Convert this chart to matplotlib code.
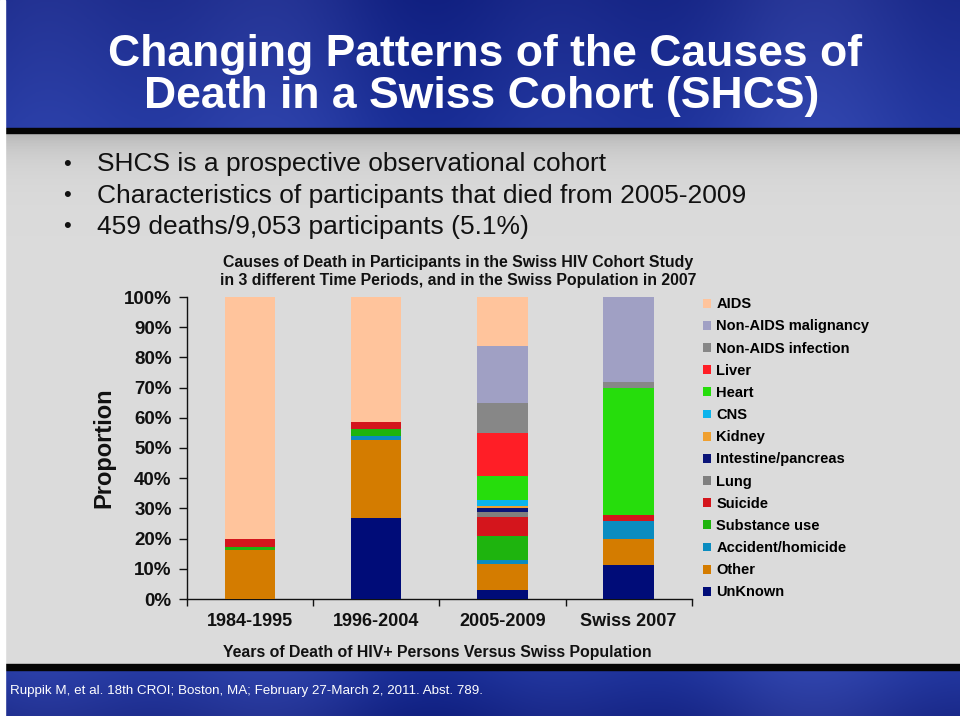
import numpy as np
import matplotlib.pyplot as plt
from matplotlib.patches import Patch, Rectangle
import matplotlib.ticker as ticker

# Data (percent of deaths per period, stacked bottom -> top)
PERIODS = ['1984-1995', '1996-2004', '2005-2009', 'Swiss 2007']
CAUSES = ['UnKnown', 'Other', 'Accident/homicide', 'Substance use', 'Suicide', 'Lung',
          'Intestine/pancreas', 'Kidney', 'CNS', 'Heart', 'Liver', 'Non-AIDS infection',
          'Non-AIDS malignancy', 'AIDS']
P_1984_1995 = [0.0, 16.2, 0.0, 1.1, 2.6, 0.0, 0.0, 0.0, 0.0, 0.0, 0.0, 0.0, 0.0, 80.1]
P_1996_2004 = [26.7, 25.9, 1.5, 2.2, 2.2, 0.0, 0.0, 0.0, 0.0, 0.0, 0.0, 0.0, 0.0, 41.5]
P_2005_2009 = [3.0, 8.6, 1.3, 8.1, 6.3, 1.6, 1.1, 0.8, 2.0, 8.0, 14.1, 9.9, 19.0, 16.2]
P_SWISS_2007 = [11.3, 8.5, 6.1, 0.0, 1.9, 0.0, 0.0, 0.0, 0.0, 42.2, 0.0, 1.7, 28.3, 0.0]
Y_TICKS = [0, 10, 20, 30, 40, 50, 60, 70, 80, 90, 100]

BULLETS = ['SHCS is a prospective observational cohort',
           'Characteristics of participants that died from 2005-2009',
           '459 deaths/9,053 participants (5.1%)']

COLORS = ['#000C78', '#D47C00', '#0A8CC0', '#1EB40E', '#D4151C', '#7F7F7F',
          '#0A1478', '#F0A030', '#0CB4EC', '#26DD0C', '#FF1E26', '#878787',
          '#A0A0C4', '#FFC49C']

plt.rcParams['font.family'] = ['Liberation Sans', 'DejaVu Sans']

W, H = 960, 716
fig = plt.figure(figsize=(W / 100, H / 100), dpi=100)


def fx(px):
    return px / W


def fy(py):
    return 1 - py / H


# Slide background
bg = fig.add_axes([0, 0, 1, 1])
bg.set_xlim(0, W)
bg.set_ylim(H, 0)
bg.axis('off')

gray = np.linspace(0, 1, 200)
gray_col = 0.86 - 0.14 * np.exp(-gray * 25)
gray_img = np.repeat(gray_col[:, None], 2, axis=1)
bg.imshow(np.dstack([gray_img] * 3), extent=(0, W, 665, 133), aspect='auto', zorder=0)

xs = np.linspace(0, 1, 300)
streak = 0.03 * np.sin(xs * 9) + 0.02 * np.sin(xs * 23 + 1)
ys = np.linspace(0, 1, 60)[:, None]
r = 0.11 + 0.03 * ys + streak
g = 0.17 + 0.05 * ys + streak
b = 0.55 + 0.08 * ys + streak
head = np.clip(np.dstack([r, g, b]), 0, 1)
bg.imshow(head, extent=(0, W, 128, 0), aspect='auto', zorder=1)
bg.imshow(head[::-1], extent=(0, W, H, 670), aspect='auto', zorder=1)
bg.add_patch(Rectangle((0, 128), W, 5, color='#050505', zorder=2))
bg.add_patch(Rectangle((0, 664), W, 6, color='#050505', zorder=2))
bg.add_patch(Rectangle((0, 0), 5, H, color='white', zorder=3))

fig.text(fx(485), fy(66), 'Changing Patterns of the Causes of', ha='center', va='baseline',
         color='white', fontsize=32, fontweight='bold')
fig.text(fx(482), fy(108), 'Death in a Swiss Cohort (SHCS)', ha='center', va='baseline',
         color='white', fontsize=32, fontweight='bold')

for i, line in enumerate(BULLETS):
    y = 164 + i * 31.5
    fig.text(fx(67), fy(y), '\u2022', ha='center', va='center', fontsize=16, color='#111111')
    fig.text(fx(97), fy(y), line, ha='left', va='center', fontsize=19, color='#111111')

fig.text(fx(10), fy(691), 'Ruppik M, et al. 18th CROI; Boston, MA; February 27-March 2, 2011. Abst. 789.',
         ha='left', va='center', color='white', fontsize=9.6)

# Chart
ax = fig.add_axes([fx(187), fy(599), fx(691.7) - fx(187), fy(297) - fy(599)])
ax.set_facecolor('none')

series = np.array([P_1984_1995, P_1996_2004, P_2005_2009, P_SWISS_2007]) / 100.0
x = np.arange(len(PERIODS))
bottom = np.zeros(len(PERIODS))
handles = []
for k, cause in enumerate(CAUSES):
    vals = series[:, k]
    ax.bar(x, vals, width=0.4, bottom=bottom, color=COLORS[k], linewidth=0, zorder=3)
    bottom += vals
    handles.append(Patch(facecolor=COLORS[k], edgecolor='none', label=cause))

ax.set_xlim(-0.5, len(PERIODS) - 0.5)
ax.set_ylim(0, 1)
for side in ['top', 'right']:
    ax.spines[side].set_visible(False)
for side in ['left', 'bottom']:
    ax.spines[side].set_color('#111111')
    ax.spines[side].set_linewidth(1.0)

ax.set_yticks(np.array(Y_TICKS) / 100.0)
ax.yaxis.set_major_formatter(ticker.PercentFormatter(1.0, decimals=0))
ax.tick_params(axis='y', direction='out', length=6, width=1, labelsize=13.5, pad=5, colors='#111111')
for lab in ax.get_yticklabels():
    lab.set_fontweight('bold')

ax.set_xticks(x)
ax.set_xticklabels(PERIODS, fontsize=13, fontweight='bold', color='#111111')
ax.set_xticks(np.arange(len(PERIODS) + 1) - 0.5, minor=True)
ax.tick_params(axis='x', which='major', length=0, pad=10)
ax.tick_params(axis='x', which='minor', direction='out', length=5, width=1, colors='#111111')

ax.set_ylabel('Proportion', fontsize=17, fontweight='bold', color='#111111')
ax.yaxis.set_label_coords(-0.142, 0.5)
fig.text(fx(437), fy(652), 'Years of Death of HIV+ Persons Versus Swiss Population',
         ha='center', va='center', fontsize=11.4, fontweight='bold', color='#111111')

fig.text(fx(458), fy(271.5),
         'Causes of Death in Participants in the Swiss HIV Cohort Study\n'
         'in 3 different Time Periods, and in the Swiss Population in 2007',
         ha='center', va='center', fontsize=11.4, fontweight='bold', color='#111111',
         linespacing=1.3)

fig.legend(handles[::-1], [h.get_label() for h in handles[::-1]],
           loc='upper left', bbox_to_anchor=(fx(696), fy(290)), frameon=False,
           handlelength=0.55, handleheight=0.55, handletextpad=0.35,
           labelspacing=0.56, borderpad=0, prop={'weight': 'bold', 'size': 10.5})

fig.savefig('out.png', dpi=100)
